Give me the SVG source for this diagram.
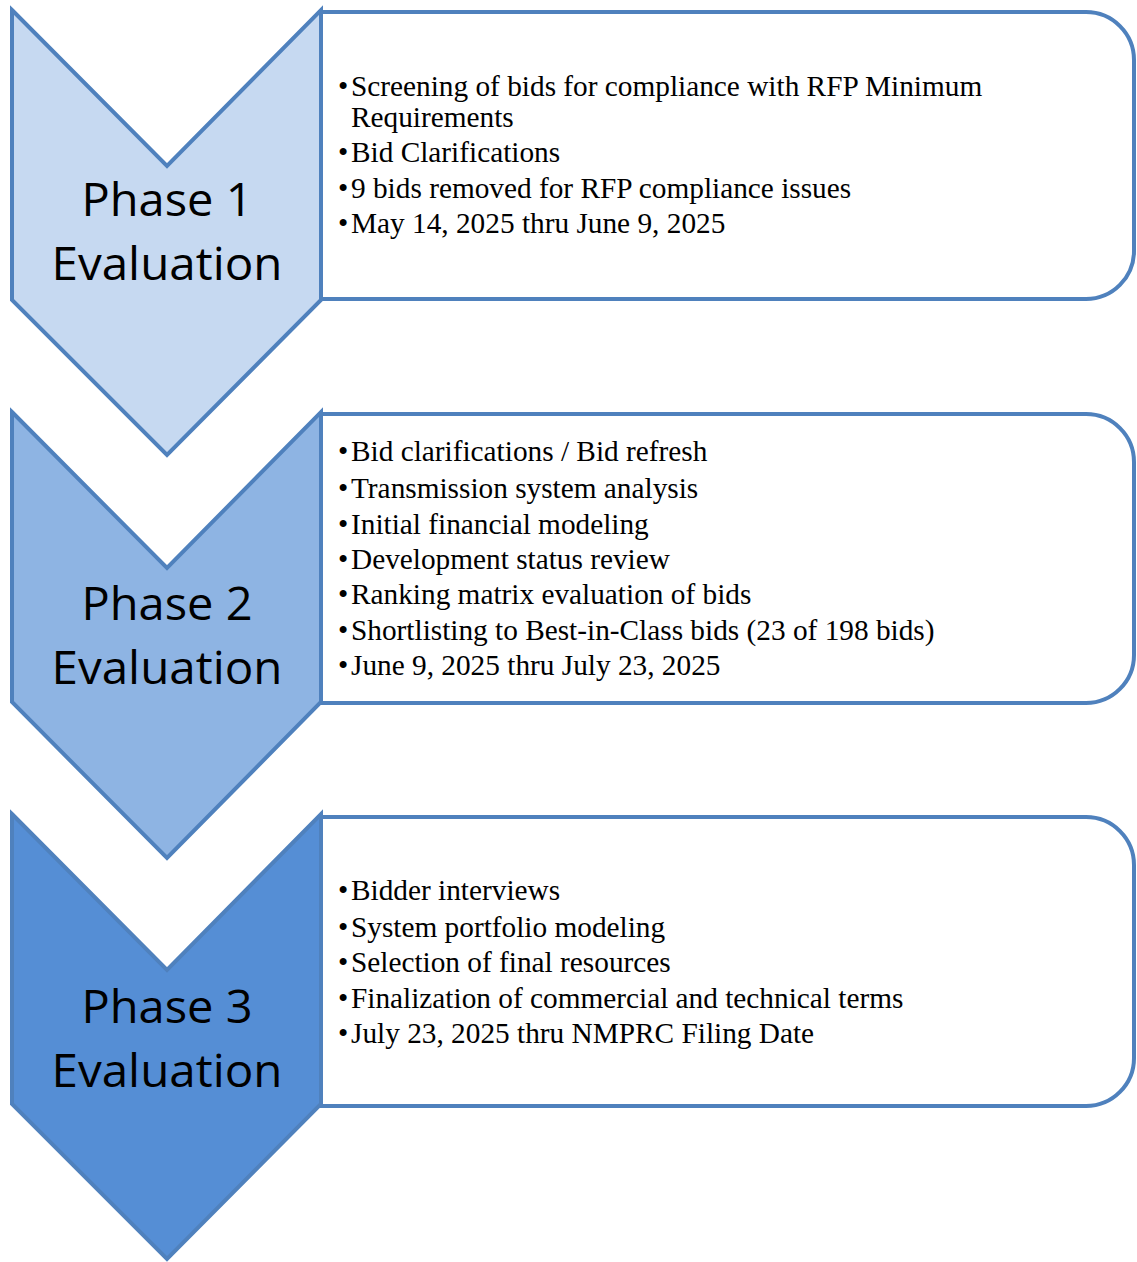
<svg xmlns="http://www.w3.org/2000/svg" width="1137" height="1262" viewBox="0 0 1137 1262">
<style>
.box{fill:#ffffff;stroke:#4F81BD;stroke-width:4}
.chev{stroke:#4F81BD;stroke-width:4;stroke-linejoin:miter}
.ph{font-family:"Open Sans","Liberation Sans",sans-serif;font-size:45px;fill:#000;text-anchor:middle}
.bl{font-family:"Liberation Serif","Times New Roman",serif;font-size:29.3px;fill:#000}
</style>
<rect width="1137" height="1262" fill="#ffffff"/>
<g id="connectors"></g>
<g id="phase1">
<path class="box" d="M321,12 H1086 A48,48 0 0 1 1134,60 V251 A48,48 0 0 1 1086,299 H321 Z"/>
<path class="chev" fill="#C6D9F1" d="M12,10 L167,166 L321,10 V300 L167,455 L12,300 Z"/>
<text class="ph" x="167" y="216" textLength="171" lengthAdjust="spacingAndGlyphs">Phase 1</text>
<text class="ph" x="167" y="280" textLength="231" lengthAdjust="spacingAndGlyphs">Evaluation</text>
<g class="bl">
<text x="338" y="96">•</text><text x="351" y="96">Screening of bids for compliance with RFP Minimum</text>
<text x="351" y="127">Requirements</text>
<text x="338" y="162">•</text><text x="351" y="162">Bid Clarifications</text>
<text x="338" y="198">•</text><text x="351" y="198">9 bids removed for RFP compliance issues</text>
<text x="338" y="233">•</text><text x="351" y="233">May 14, 2025 thru June 9, 2025</text>
</g>
</g>
<g id="phase2">
<path class="box" d="M321,414 H1086 A48,48 0 0 1 1134,462 V655 A48,48 0 0 1 1086,703 H321 Z"/>
<path class="chev" fill="#8EB4E3" d="M12,412 L167,568 L321,412 V702 L167,858 L12,702 Z"/>
<text class="ph" x="167" y="620" textLength="171" lengthAdjust="spacingAndGlyphs">Phase 2</text>
<text class="ph" x="167" y="684" textLength="231" lengthAdjust="spacingAndGlyphs">Evaluation</text>
<g class="bl">
<text x="338" y="461">•</text><text x="351" y="461">Bid clarifications / Bid refresh</text>
<text x="338" y="498">•</text><text x="351" y="498">Transmission system analysis</text>
<text x="338" y="534">•</text><text x="351" y="534">Initial financial modeling</text>
<text x="338" y="569">•</text><text x="351" y="569">Development status review</text>
<text x="338" y="604">•</text><text x="351" y="604">Ranking matrix evaluation of bids</text>
<text x="338" y="640">•</text><text x="351" y="640">Shortlisting to Best-in-Class bids (23 of 198 bids)</text>
<text x="338" y="675">•</text><text x="351" y="675">June 9, 2025 thru July 23, 2025</text>
</g>
</g>
<g id="phase3">
<path class="box" d="M321,817 H1086 A48,48 0 0 1 1134,865 V1058 A48,48 0 0 1 1086,1106 H321 Z"/>
<path class="chev" fill="#558ED5" d="M12,814 L167,970 L321,814 V1104 L167,1259 L12,1104 Z"/>
<text class="ph" x="167" y="1023" textLength="171" lengthAdjust="spacingAndGlyphs">Phase 3</text>
<text class="ph" x="167" y="1087" textLength="231" lengthAdjust="spacingAndGlyphs">Evaluation</text>
<g class="bl">
<text x="338" y="900">•</text><text x="351" y="900">Bidder interviews</text>
<text x="338" y="937">•</text><text x="351" y="937">System portfolio modeling</text>
<text x="338" y="972">•</text><text x="351" y="972">Selection of final resources</text>
<text x="338" y="1008">•</text><text x="351" y="1008">Finalization of commercial and technical terms</text>
<text x="338" y="1043">•</text><text x="351" y="1043">July 23, 2025 thru NMPRC Filing Date</text>
</g>
</g>
</svg>
